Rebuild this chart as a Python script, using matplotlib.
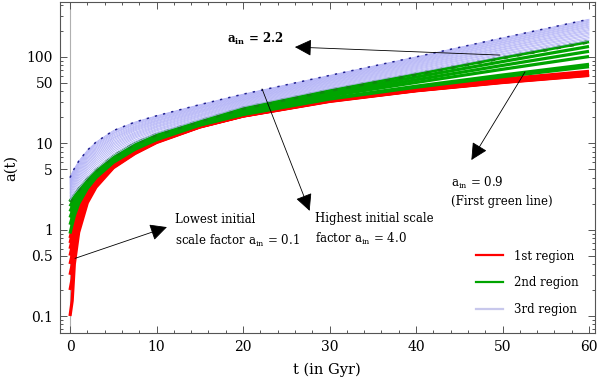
import matplotlib
matplotlib.use("Agg")
import matplotlib.pyplot as plt
from matplotlib.lines import Line2D
from matplotlib.ticker import FixedLocator, NullFormatter, MultipleLocator

plt.rcParams["font.family"] = ["DejaVu Serif"]
plt.rcParams["mathtext.fontset"] = "dejavuserif"

# ---- data ----
t_gyr = [0, 0.25, 0.5, 1, 2, 3, 5, 7.5, 10, 15, 20, 30, 40, 50, 60]

# 1st region: a_in = 0.1 ... 0.8
red_lines = [
    [0.1, 0.15, 0.40, 0.93, 2.05, 3.10, 5.20, 7.6, 10.2, 15.4, 20.6, 30.5, 40.5, 50.5, 61.0],
    [0.2, 0.27, 0.53, 1.06, 2.16, 3.21, 5.29, 7.7, 10.3, 15.5, 20.7, 30.7, 40.7, 50.9, 61.5],
    [0.3, 0.39, 0.66, 1.19, 2.28, 3.31, 5.37, 7.8, 10.4, 15.5, 20.7, 30.9, 40.9, 51.2, 62.0],
    [0.4, 0.51, 0.79, 1.32, 2.39, 3.42, 5.46, 7.9, 10.5, 15.6, 20.8, 31.1, 41.0, 51.6, 62.5],
    [0.5, 0.64, 0.91, 1.46, 2.51, 3.53, 5.54, 8.0, 10.5, 15.7, 20.9, 31.2, 41.2, 52.0, 63.0],
    [0.6, 0.76, 1.04, 1.59, 2.62, 3.64, 5.63, 8.1, 10.6, 15.8, 21.0, 31.4, 41.6, 52.7, 64.0],
    [0.7, 0.88, 1.17, 1.72, 2.74, 3.74, 5.71, 8.2, 10.7, 15.8, 21.0, 31.6, 41.9, 53.4, 65.0],
    [0.8, 1.00, 1.30, 1.85, 2.85, 3.85, 5.80, 8.3, 10.8, 15.9, 21.1, 31.8, 43.0, 55.5, 68.0],
]

# 2nd region: a_in = 0.9 ... 2.1
green_lines = [
    [0.90, 1.15, 1.45, 2.00, 3.00, 4.00, 6.0, 8.50, 11.0, 16.2, 21.5, 32.5, 44.5, 59.0, 77],
    [1.14, 1.38, 1.66, 2.18, 3.16, 4.16, 6.2, 8.78, 11.3, 16.4, 21.8, 33.1, 45.8, 61.7, 82],
    [1.38, 1.61, 1.87, 2.36, 3.32, 4.32, 6.4, 9.06, 11.6, 16.9, 22.8, 35.3, 50.6, 71.9, 101],
    [1.62, 1.84, 2.08, 2.54, 3.48, 4.48, 6.6, 9.34, 12.0, 17.2, 23.6, 37.0, 54.3, 79.7, 116],
    [1.86, 2.07, 2.29, 2.72, 3.64, 4.64, 6.8, 9.62, 12.3, 17.6, 24.5, 38.9, 58.4, 88.3, 132],
    [2.10, 2.30, 2.50, 2.90, 3.80, 4.80, 7.0, 9.90, 12.6, 18.0, 25.5, 41.0, 63.0, 98.0, 150],
]

# 3rd region: a_in = 2.2 ... 4.0
blue_lines = [
    [2.2, 2.40, 2.60, 3.00, 3.95, 5.00, 7.20, 10.1, 13.0, 18.6, 26.3, 42.5, 65.5, 102, 155],
    [2.3, 2.52, 2.74, 3.18, 4.19, 5.29, 7.58, 10.5, 13.4, 19.1, 26.9, 43.5, 67.4, 106, 162],
    [2.4, 2.64, 2.88, 3.36, 4.43, 5.59, 7.96, 10.9, 13.9, 19.6, 27.5, 44.6, 69.3, 109, 168],
    [2.5, 2.77, 3.02, 3.53, 4.68, 5.88, 8.33, 11.4, 14.3, 20.2, 28.1, 45.6, 71.3, 113, 175],
    [2.6, 2.89, 3.16, 3.71, 4.92, 6.18, 8.71, 11.8, 14.7, 20.7, 28.7, 46.6, 73.2, 116, 181],
    [2.7, 3.01, 3.29, 3.89, 5.16, 6.47, 9.09, 12.2, 15.2, 21.2, 29.3, 47.6, 75.1, 120, 188],
    [2.8, 3.13, 3.43, 4.07, 5.40, 6.77, 9.47, 12.6, 15.6, 21.7, 29.9, 48.7, 77.0, 123, 194],
    [2.9, 3.26, 3.57, 4.24, 5.64, 7.06, 9.84, 13.0, 16.0, 22.3, 30.5, 49.7, 78.9, 127, 201],
    [3.0, 3.38, 3.71, 4.42, 5.88, 7.36, 10.2, 13.4, 16.5, 22.8, 31.1, 50.7, 80.8, 130, 207],
    [3.1, 3.50, 3.85, 4.60, 6.13, 7.65, 10.6, 13.9, 16.9, 23.3, 31.7, 51.8, 82.8, 134, 214],
    [3.2, 3.62, 3.99, 4.78, 6.37, 7.94, 11.0, 14.3, 17.3, 23.8, 32.2, 52.8, 84.7, 138, 221],
    [3.3, 3.74, 4.13, 4.96, 6.61, 8.24, 11.4, 14.7, 17.8, 24.3, 32.8, 53.8, 86.6, 141, 227],
    [3.4, 3.87, 4.27, 5.13, 6.85, 8.53, 11.7, 15.1, 18.2, 24.9, 33.4, 54.8, 88.5, 145, 234],
    [3.5, 3.99, 4.41, 5.31, 7.09, 8.83, 12.1, 15.5, 18.6, 25.4, 34.0, 55.9, 90.4, 148, 240],
    [3.6, 4.11, 4.54, 5.49, 7.33, 9.12, 12.5, 15.9, 19.1, 25.9, 34.6, 56.9, 92.3, 152, 247],
    [3.7, 4.23, 4.68, 5.67, 7.58, 9.42, 12.9, 16.4, 19.5, 26.4, 35.2, 57.9, 94.3, 155, 253],
    [3.8, 4.36, 4.82, 5.84, 7.82, 9.71, 13.2, 16.8, 19.9, 27.0, 35.8, 58.9, 96.2, 159, 260],
    [3.9, 4.48, 4.96, 6.02, 8.06, 10.0, 13.6, 17.2, 20.4, 27.5, 36.4, 60.0, 98.1, 162, 266],
    [4.0, 4.60, 5.10, 6.20, 8.30, 10.3, 14.0, 17.6, 20.8, 28.0, 37.0, 61.0, 100, 166, 273],
]

y_ticks = [0.1, 0.5, 1, 5, 10, 50, 100]
y_tick_labels = ["0.1", "0.5", "1", "5", "10", "50", "100"]
x_ticks = [0, 10, 20, 30, 40, 50, 60]
legend_labels = ["1st region", "2nd region", "3rd region"]

RED = "#ff0000"
GREEN = "#00a400"
BLUE = "#aeaef6"

# ---- figure ----
fig = plt.figure(figsize=(6.01, 3.80), dpi=100)
ax = fig.add_axes([0.0998, 0.1237, 0.8895, 0.871])
ax.set_yscale("log")
ax.set_xlim(-1.16, 60.64)
ax.set_ylim(0.0636, 432)

ax.axvline(0, color="#b0b0b0", lw=0.8, zorder=0)

for row in red_lines:
    ax.plot(t_gyr, row, color=RED, lw=2.3, solid_capstyle="butt", zorder=2)
for row in green_lines:
    ax.plot(t_gyr, row, color=GREEN, lw=2.3, solid_capstyle="butt", zorder=3)
for row in blue_lines:
    ax.plot(t_gyr, row, color=BLUE, lw=0.55, zorder=4)
# top edges look dashed in the original
ax.plot(t_gyr, green_lines[-1], color="#0c8a0c", lw=2.6, ls=(0, (1.2, 2.5)), zorder=3)
ax.plot(t_gyr, blue_lines[-1], color="#202090", lw=1.1, ls=(0, (1.5, 4)), zorder=5)

# ---- annotations ----
arrow = dict(arrowstyle="-|>", color="black", lw=0.6, mutation_scale=26,
             shrinkA=0, shrinkB=0)
ax.annotate("", xy=(26.0, 130), xytext=(49.7, 105), arrowprops=arrow, zorder=6)
ax.text(21.4, 160, r"$\mathbf{a_{in}}$ = 2.2", fontsize=8.5, fontweight="bold",
        ha="center", va="center")

ax.annotate("", xy=(46.4, 6.4), xytext=(52.6, 67), arrowprops=arrow, zorder=6)
ax.text(44.1, 3.45, r"$\mathregular{a_{in}}$ = 0.9", fontsize=8.5, ha="left", va="center")
ax.text(44.1, 2.1, "(First green line)", fontsize=8.5, ha="left", va="center")

ax.annotate("", xy=(27.7, 1.65), xytext=(22.2, 42.6), arrowprops=arrow, zorder=6)
ax.text(28.3, 1.35, "Highest initial scale", fontsize=8.5, ha="left", va="center")
ax.text(28.3, 0.78, r"factor $\mathregular{a_{in}}$ = 4.0", fontsize=8.5, ha="left", va="center")

ax.annotate("", xy=(11.2, 1.07), xytext=(0.58, 0.465), arrowprops=arrow, zorder=6)
ax.text(12.1, 1.3, "Lowest initial", fontsize=8.5, ha="left", va="center")
ax.text(12.1, 0.74, r"scale factor $\mathregular{a_{in}}$ = 0.1", fontsize=8.5,
        ha="left", va="center")

# ---- axes styling ----
ax.xaxis.set_major_locator(FixedLocator(x_ticks))
ax.xaxis.set_minor_locator(MultipleLocator(2))
ax.yaxis.set_major_locator(FixedLocator(y_ticks))
ax.set_yticklabels(y_tick_labels)
minor_y = [m * 10.0 ** e for e in range(-2, 3) for m in range(2, 10)]
minor_y = [v for v in minor_y if v not in y_ticks]
ax.yaxis.set_minor_locator(FixedLocator(minor_y))
ax.yaxis.set_minor_formatter(NullFormatter())

for s in ax.spines.values():
    s.set_color("#555555")
    s.set_linewidth(0.8)
ax.tick_params(which="both", direction="in", top=True, right=True,
               color="#555555", labelsize=10, width=0.7)
ax.tick_params(which="major", length=5, pad=5)
ax.tick_params(which="minor", length=2.5)

ax.set_xlabel("t (in Gyr)", fontsize=10.5, labelpad=6)
ax.set_ylabel("a(t)", fontsize=10.5, labelpad=6)

handles = [Line2D([], [], color=RED, lw=1.6),
           Line2D([], [], color=GREEN, lw=1.6),
           Line2D([], [], color="#c8c8ec", lw=1.6)]
ax.legend(handles, legend_labels, loc="lower right", frameon=False, fontsize=8.5,
          handlelength=2.3, labelspacing=1.15, handletextpad=0.9,
          bbox_to_anchor=(0.99, 0.02))

fig.savefig("out.png", dpi=100)
